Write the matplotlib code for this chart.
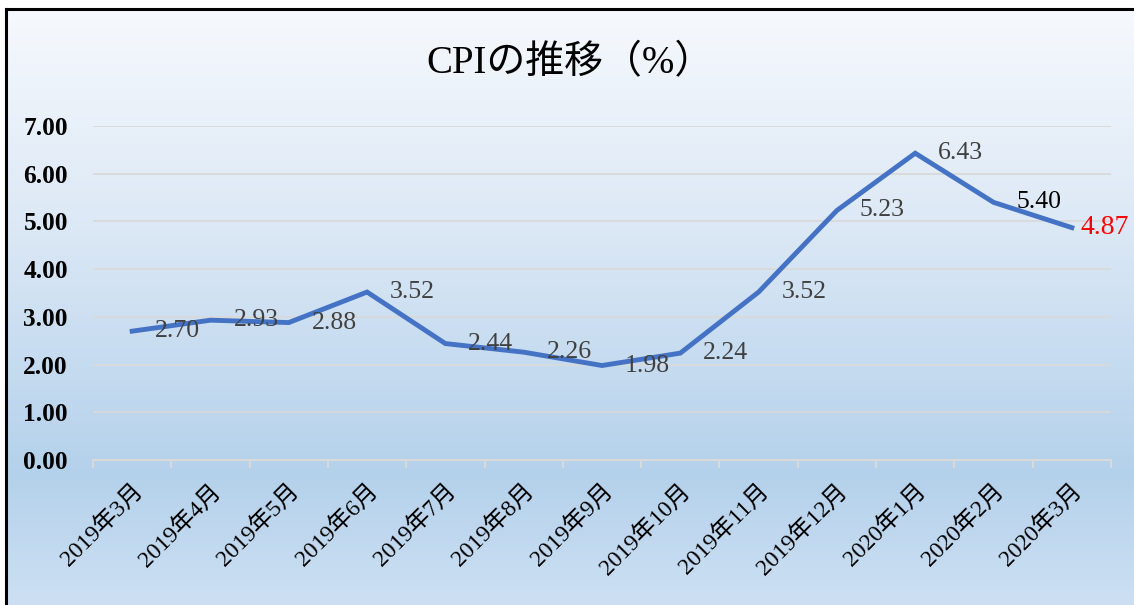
import numpy as np
import matplotlib.pyplot as plt
from matplotlib.colors import LinearSegmentedColormap
from matplotlib.lines import Line2D

months = ["2019年3月", "2019年4月", "2019年5月", "2019年6月", "2019年7月",
          "2019年8月", "2019年9月", "2019年10月", "2019年11月", "2019年12月",
          "2020年1月", "2020年2月", "2020年3月"]
cpi = [2.70, 2.93, 2.88, 3.52, 2.44, 2.26, 1.98, 2.24, 3.52, 5.23, 6.43, 5.40, 4.87]
title = "CPIの推移（%）"

FONTS = ["Liberation Serif", "Noto Sans CJK JP", "DejaVu Sans"]
plt.rcParams["font.family"] = FONTS

W, H, DPI = 1134, 605, 100
fig = plt.figure(figsize=(W / DPI, H / DPI), dpi=DPI)
fig.patch.set_facecolor("white")

# gradient background inside the chart frame
bg = fig.add_axes([7 / W, 0, 1 - 7 / W, 1 - 10 / H], zorder=0)
grad_cmap = LinearSegmentedColormap.from_list(
    "bg", [(0.0, "#f6f9fd"), (0.35, "#dde9f6"), (0.78, "#b4d1eb"), (1.0, "#cde0f3")])
bg.imshow(np.linspace(0, 1, 256).reshape(-1, 1), aspect="auto", cmap=grad_cmap,
          extent=[0, 1, 0, 1])
bg.set_axis_off()

# frame: only left and top edges are inside the picture
fig.add_artist(Line2D([6 / W, 6 / W], [0, 1 - 9 / H], color="black", lw=2.2,
                      transform=fig.transFigure))
fig.add_artist(Line2D([6 / W, 1], [1 - 9 / H, 1 - 9 / H], color="black", lw=2.2,
                      transform=fig.transFigure))

ax = fig.add_axes([93 / W, 1 - 460 / H, 1018 / W, 334 / H], zorder=1)
ax.patch.set_alpha(0)
x = np.arange(len(months))
ax.plot(x, cpi, color="#4472c4", lw=3.5, solid_joinstyle="miter", zorder=3)

ax.set_xlim(-0.5, len(months) - 0.5)
ax.set_ylim(0, 7)
ax.set_yticks(np.arange(0, 8, 1))
ax.set_yticklabels([f"{v:.2f}" for v in np.arange(0, 8, 1)], fontsize=18.3,
                   fontweight="bold")
ax.tick_params(axis="y", length=0, pad=18)
ax.grid(axis="y", color="#d9d9d9", lw=1.3)
ax.set_axisbelow(True)

ax.set_xticks(x)
ax.set_xticklabels(months, rotation=45, ha="right", rotation_mode="anchor",
                   fontsize=17)
ax.tick_params(axis="x", length=0, pad=15)
ax.set_xticks(np.arange(-0.5, len(months), 1), minor=True)
ax.tick_params(axis="x", which="minor", length=6, width=1.5, color="#d9d9d9")

for s in ["top", "right", "left"]:
    ax.spines[s].set_visible(False)
ax.spines["bottom"].set_color("#d9d9d9")
ax.spines["bottom"].set_linewidth(1.5)

for i, v in enumerate(cpi):
    color, size, off = "#404040", 18.5, 16.5
    if i == len(cpi) - 2:
        color = "black"
    if i == len(cpi) - 1:
        color, size, off = "red", 20, 6.5
    ax.annotate(f"{v:.2f}", (i, v), xytext=(off, 0), textcoords="offset points",
                ha="left", va="center", fontsize=size, color=color,
                annotation_clip=False)

fig.text(570 / W, 1 - 64 / H, title, ha="center", va="center", fontsize=28)

fig.savefig("out.png", dpi=DPI)
